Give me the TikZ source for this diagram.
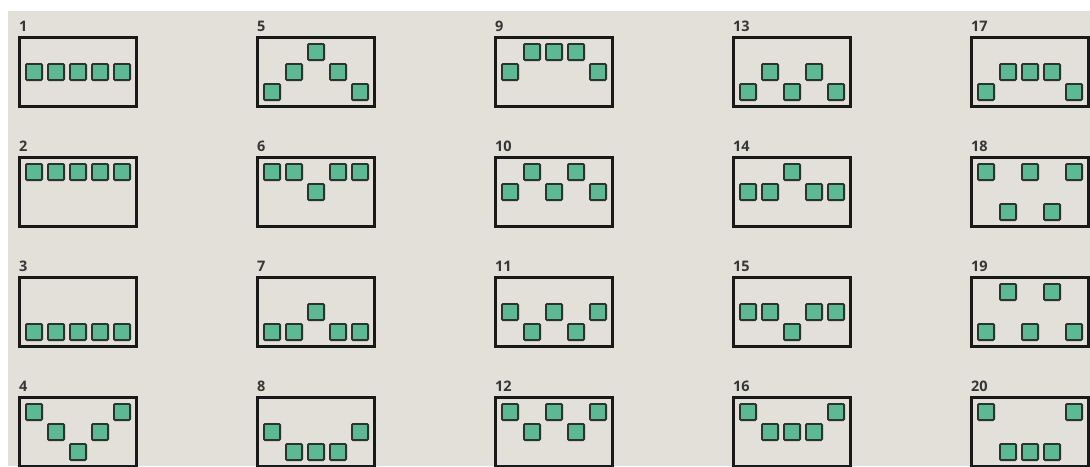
\documentclass[tikz,border=0pt]{standalone}
\usepackage{fontspec}
\setmainfont{Open Sans}
\definecolor{bg}{HTML}{E2E0D9}
\definecolor{sqfill}{HTML}{5DB894}
\definecolor{sqdraw}{HTML}{2A332D}
\definecolor{lbl}{HTML}{363636}
\begin{document}
\begin{tikzpicture}[x=1pt,y=-1pt,
  frame/.style={draw=black!90, line width=2.7pt},
  tile/.style={fill=sqfill, draw=sqdraw, line width=1.8pt, rounded corners=1pt},
  num/.style={anchor=base west, inner sep=0pt, text=lbl, font=\fontsize{14.5}{15}\selectfont\bfseries}]
\useasboundingbox (0,0) rectangle (1090,466);
\fill[white] (0,0) rectangle (1090,466);
\fill[bg] (8,11) rectangle (1090,466);
\foreach \n/\pat in {1/{1,1,1,1,1},2/{0,0,0,0,0},3/{2,2,2,2,2},4/{0,1,2,1,0},
  5/{2,1,0,1,2},6/{0,0,1,0,0},7/{2,2,1,2,2},8/{1,2,2,2,1},
  9/{1,0,0,0,1},10/{1,0,1,0,1},11/{1,2,1,2,1},12/{0,1,0,1,0},
  13/{2,1,2,1,2},14/{1,1,0,1,1},15/{1,1,2,1,1},16/{0,1,1,1,0},
  17/{2,1,1,1,2},18/{0,2,0,2,0},19/{2,0,2,0,2},20/{0,2,2,2,0}}{
  \pgfmathtruncatemacro\c{div(\n-1,4)}
  \pgfmathtruncatemacro\r{mod(\n-1,4)}
  \pgfmathsetmacro\X{18+238*\c}
  \pgfmathsetmacro\Y{36+120*\r}
  \node[num] (lab\n) at (\X+1,\Y-4.5) {\n};
  \draw[frame] (\X+1.35,\Y+1.35) rectangle (\X+118.65,\Y+70.65);
  \foreach \lv [count=\i from 0] in \pat {
    \draw[tile] (\X+7.9+22*\i,\Y+7.9+20*\lv) rectangle ++(16.2,16.2);
  }
}
\end{tikzpicture}
\end{document}
